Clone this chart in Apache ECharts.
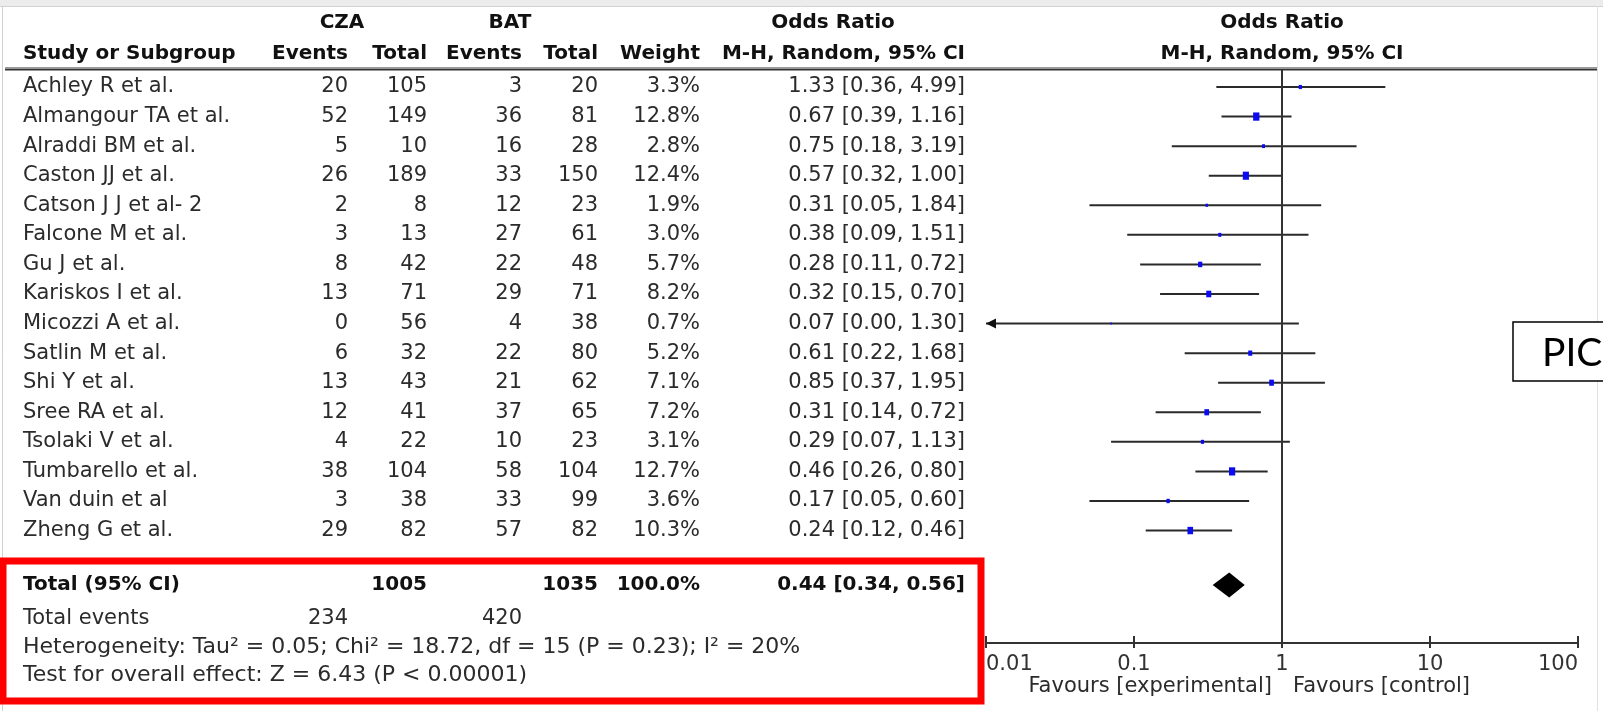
<!DOCTYPE html>
<html><head><meta charset="utf-8">
<script src="https://cdn.jsdelivr.net/npm/echarts@6/dist/echarts.min.js"></script>
<style>html,body{margin:0;padding:0;background:#fff}#c{width:1603px;height:711px}</style>
</head><body><div id="c"></div>
<script>
// ---------------- DATA ----------------
const studies = ['Achley R et al.', 'Almangour TA et al.', 'Alraddi BM et al.', 'Caston JJ et al.',
  'Catson J J et al- 2', 'Falcone M et al.', 'Gu J et al.', 'Kariskos I et al.', 'Micozzi A et al.',
  'Satlin M et al.', 'Shi Y et al.', 'Sree RA et al.', 'Tsolaki V et al.', 'Tumbarello et al.',
  'Van duin et al', 'Zheng G et al.'];
const czaEvents = [20, 52, 5, 26, 2, 3, 8, 13, 0, 6, 13, 12, 4, 38, 3, 29];
const czaTotal  = [105, 149, 10, 189, 8, 13, 42, 71, 56, 32, 43, 41, 22, 104, 38, 82];
const batEvents = [3, 36, 16, 33, 12, 27, 22, 29, 4, 22, 21, 37, 10, 58, 33, 57];
const batTotal  = [20, 81, 28, 150, 23, 61, 48, 71, 38, 80, 62, 65, 23, 104, 99, 82];
const weights   = [3.3, 12.8, 2.8, 12.4, 1.9, 3.0, 5.7, 8.2, 0.7, 5.2, 7.1, 7.2, 3.1, 12.7, 3.6, 10.3];
const oddsRatio = [1.33, 0.67, 0.75, 0.57, 0.31, 0.38, 0.28, 0.32, 0.07, 0.61, 0.85, 0.31, 0.29, 0.46, 0.17, 0.24];
const ciLow     = [0.36, 0.39, 0.18, 0.32, 0.05, 0.09, 0.11, 0.15, 0.00, 0.22, 0.37, 0.14, 0.07, 0.26, 0.05, 0.12];
const ciHigh    = [4.99, 1.16, 3.19, 1.00, 1.84, 1.51, 0.72, 0.70, 1.30, 1.68, 1.95, 0.72, 1.13, 0.80, 0.60, 0.46];
const totalCza = 1005, totalBat = 1035, totalWeight = 100.0;
const totalOR = [0.44, 0.34, 0.56];
const totalEventsCza = 234, totalEventsBat = 420;
const tickValues = [0.01, 0.1, 1, 10, 100];
const tickLabels = ['0.01', '0.1', '1', '10', '100'];
const heterogeneityText = 'Heterogeneity: Tau² = 0.05; Chi² = 18.72, df = 15 (P = 0.23); I² = 20%';
const overallText = 'Test for overall effect: Z = 6.43 (P < 0.00001)';

// ---------------- LAYOUT ----------------
const FONT = 'DejaVu Sans';
const FS = 21, FSB = 20;
const TXT = '#2b2b2b', BOLD = '#111';
const GRID_TOP = 69, GRID_BOTTOM = 643, ROW0 = 87, ROWH = 29.57;
const Y_MIN = -(ROW0 - GRID_TOP) / ROWH;
const Y_MAX = Y_MIN + (GRID_BOTTOM - GRID_TOP) / ROWH;
const TOTAL_Y_PX = 585;
const TOTAL_ROW = (TOTAL_Y_PX - ROW0) / ROWH;
const X_MIN = 0.01, X_MAX = 100;
const PLOT_LEFT = 986, PLOT_RIGHT = 1578;

const fmt2 = v => v.toFixed(2);
const orText = (o, l, h) => fmt2(o) + ' [' + fmt2(l) + ', ' + fmt2(h) + ']';

const cols = [
  {x: 23, align: 'left', get: i => studies[i]},
  {x: 348, align: 'right', get: i => String(czaEvents[i])},
  {x: 427, align: 'right', get: i => String(czaTotal[i])},
  {x: 522, align: 'right', get: i => String(batEvents[i])},
  {x: 598, align: 'right', get: i => String(batTotal[i])},
  {x: 700, align: 'right', get: i => weights[i].toFixed(1) + '%'},
  {x: 965, align: 'right', get: i => orText(oddsRatio[i], ciLow[i], ciHigh[i])}
];

function renderTable(params, api) {
  const i = api.value(0);
  const y = api.coord([0, i])[1];
  return {
    type: 'group',
    children: cols.map(c => ({
      type: 'text',
      style: {text: c.get(i), x: api.coord([c.x, i])[0], y: y, align: c.align, verticalAlign: 'middle',
        fontFamily: FONT, fontSize: FS, fill: TXT}
    }))
  };
}

function renderCI(params, api) {
  const i = api.value(0), or = api.value(1), lo = api.value(2), hi = api.value(3), w = api.value(4);
  const y = api.coord([1, i])[1];
  const clipped = lo < X_MIN;
  const xLo = clipped ? api.coord([X_MIN, i])[0] : api.coord([lo, i])[0];
  const xHi = api.coord([Math.min(hi, X_MAX), i])[0];
  const c = api.coord([or, i]);
  const sw = 1.75 * Math.sqrt(w), sh = 2.3 * Math.sqrt(w);
  const children = [
    {type: 'line', shape: {x1: xLo, y1: y, x2: xHi, y2: y}, style: {stroke: '#2a2a2a', lineWidth: 2}},
    {type: 'rect', shape: {x: c[0] - sw / 2, y: c[1] - sh / 2, width: sw, height: sh}, style: {fill: '#0b0bf2'}}
  ];
  if (clipped) {
    children.push({type: 'polygon', shape: {points: [[xLo, y], [xLo + 10, y - 5], [xLo + 10, y + 5]]}, style: {fill: '#111'}});
  }
  return {type: 'group', children};
}

function renderDiamond(params, api) {
  const r = api.value(0), o = api.value(1), l = api.value(2), h = api.value(3);
  const pL = api.coord([l, r]), pO = api.coord([o, r]), pH = api.coord([h, r]);
  const hh = 12.5;
  return {type: 'polygon', shape: {points: [[pL[0], pL[1]], [pO[0], pO[1] - hh], [pH[0], pH[1]], [pO[0], pO[1] + hh]]},
    style: {fill: '#000'}};
}

// upper half of the axis ticks (the axis itself draws the lower half)
function renderTickUp(params, api) {
  const p = api.coord([api.value(0), Y_MAX]);
  return {type: 'line', shape: {x1: p[0], y1: p[1] - 7, x2: p[0], y2: p[1]}, style: {stroke: '#333', lineWidth: 2}};
}

function txt(text, x, y, align, bold, size, extra) {
  return Object.assign({
    type: 'text', x: x, y: y, z: 10,
    style: {text: text, align: align, verticalAlign: 'middle', fontFamily: FONT,
      fontSize: size || (bold ? FSB : FS), fontWeight: bold ? 'bold' : 'normal', fill: bold ? BOLD : TXT}
  }, extra || {});
}

const tickIdx = v => Math.round(Math.log10(v)) + 2;

const chart = echarts.init(document.getElementById('c'), null, {renderer: 'canvas'});
chart.setOption({
  animation: false,
  backgroundColor: '#fff',
  grid: [
    {left: PLOT_LEFT, top: GRID_TOP, width: PLOT_RIGHT - PLOT_LEFT, height: GRID_BOTTOM - GRID_TOP},
    {left: 0, top: GRID_TOP, width: 1603, height: GRID_BOTTOM - GRID_TOP}
  ],
  xAxis: [
    {type: 'log', logBase: 10, min: X_MIN, max: X_MAX, gridIndex: 0, position: 'bottom',
      axisLine: {show: true, onZero: false, lineStyle: {color: '#333', width: 2}},
      axisTick: {show: true, length: 5, lineStyle: {color: '#333', width: 2}},
      splitLine: {show: false}, minorTick: {show: false},
      axisLabel: {show: true, margin: 11, fontFamily: FONT, fontSize: FS, color: '#333',
        alignMinLabel: 'left', alignMaxLabel: 'right',
        formatter: v => tickLabels[tickIdx(v)]}},
    {type: 'value', min: 0, max: 1603, gridIndex: 1, show: false, axisLine: {onZero: false}}
  ],
  yAxis: [
    {type: 'value', inverse: true, min: Y_MIN, max: Y_MAX, gridIndex: 0, show: false, axisLine: {onZero: false}},
    {type: 'value', inverse: true, min: Y_MIN, max: Y_MAX, gridIndex: 1, show: false, axisLine: {onZero: false}}
  ],
  series: [
    {type: 'custom', name: 'table', xAxisIndex: 1, yAxisIndex: 1, renderItem: renderTable,
      encode: {y: 0, x: 1}, data: studies.map((s, i) => [i, 0]), silent: true, clip: false},
    {type: 'custom', name: 'ci', xAxisIndex: 0, yAxisIndex: 0, renderItem: renderCI, clip: false,
      encode: {y: 0, x: 1}, z: 3,
      data: studies.map((s, i) => [i, oddsRatio[i], ciLow[i], ciHigh[i], weights[i]]),
      markLine: {silent: true, symbol: 'none', animation: false, label: {show: false},
        lineStyle: {color: '#333', width: 2, type: 'solid'}, data: [{xAxis: 1}]}},
    {type: 'custom', name: 'total', xAxisIndex: 0, yAxisIndex: 0, renderItem: renderDiamond, clip: false,
      encode: {y: 0, x: 1}, data: [[TOTAL_ROW, totalOR[0], totalOR[1], totalOR[2]]]},
    {type: 'custom', name: 'ticks', xAxisIndex: 0, yAxisIndex: 0, renderItem: renderTickUp, clip: false,
      encode: {x: 0, y: 1}, data: tickValues.map(v => [v, Y_MAX])}
  ],
  graphic: [
    // window frame
    {type: 'rect', shape: {x: 0, y: 0, width: 1603, height: 6}, style: {fill: '#ececec'}, z: 1},
    {type: 'line', shape: {x1: 0, y1: 6.5, x2: 1603, y2: 6.5}, style: {stroke: '#d2d2d2', lineWidth: 1}, z: 1},
    {type: 'line', shape: {x1: 2.5, y1: 6, x2: 2.5, y2: 711}, style: {stroke: '#d0d0d0', lineWidth: 1}, z: 1},
    {type: 'line', shape: {x1: 1597.5, y1: 6, x2: 1597.5, y2: 711}, style: {stroke: '#e0e0e0', lineWidth: 1}, z: 1},
    // header rule
    {type: 'line', shape: {x1: 5, y1: 67.5, x2: 1597, y2: 67.5}, style: {stroke: '#9a9a9a', lineWidth: 1}, z: 2},
    {type: 'line', shape: {x1: 5, y1: 69.5, x2: 1597, y2: 69.5}, style: {stroke: '#333', lineWidth: 2}, z: 2},
    // headers
    txt('CZA', 342, 23, 'center', true),
    txt('BAT', 510, 23, 'center', true),
    txt('Odds Ratio', 833, 23, 'center', true),
    txt('Odds Ratio', 1282, 23, 'center', true),
    txt('Study or Subgroup', 23, 54, 'left', true),
    txt('Events', 348, 54, 'right', true),
    txt('Total', 427, 54, 'right', true),
    txt('Events', 522, 54, 'right', true),
    txt('Total', 598, 54, 'right', true),
    txt('Weight', 700, 54, 'right', true),
    txt('M-H, Random, 95% CI', 965, 54, 'right', true),
    txt('M-H, Random, 95% CI', 1282, 54, 'center', true),
    // totals
    txt('Total (95% CI)', 23, TOTAL_Y_PX, 'left', true),
    txt(String(totalCza), 427, TOTAL_Y_PX, 'right', true),
    txt(String(totalBat), 598, TOTAL_Y_PX, 'right', true),
    txt(totalWeight.toFixed(1) + '%', 700, TOTAL_Y_PX, 'right', true),
    txt(orText(totalOR[0], totalOR[1], totalOR[2]), 965, TOTAL_Y_PX, 'right', true),
    txt('Total events', 23, 619, 'left', false),
    txt(String(totalEventsCza), 348, 619, 'right', false),
    txt(String(totalEventsBat), 522, 619, 'right', false),
    txt(heterogeneityText, 23, 647, 'left', false, 22),
    txt(overallText, 23, 675, 'left', false, 22),
    // favours
    txt('Favours [experimental]', 1272, 687, 'right', false),
    txt('Favours [control]', 1293, 687, 'left', false),
    // red box
    {type: 'rect', z: 20, shape: {x: 3, y: 561, width: 978, height: 140},
      style: {fill: 'none', stroke: '#ff0000', lineWidth: 7}},
    // PIC box (runs off the right edge)
    {type: 'rect', z: 20, shape: {x: 1513, y: 322, width: 120, height: 59},
      style: {fill: '#fff', stroke: '#000', lineWidth: 1.5}},
    {type: 'text', z: 21, x: 1542, y: 353,
      style: {text: 'PIC', fontFamily: 'Lato', fontSize: 39, fill: '#000', align: 'left', verticalAlign: 'middle'}}
  ]
});
</script></body></html>
